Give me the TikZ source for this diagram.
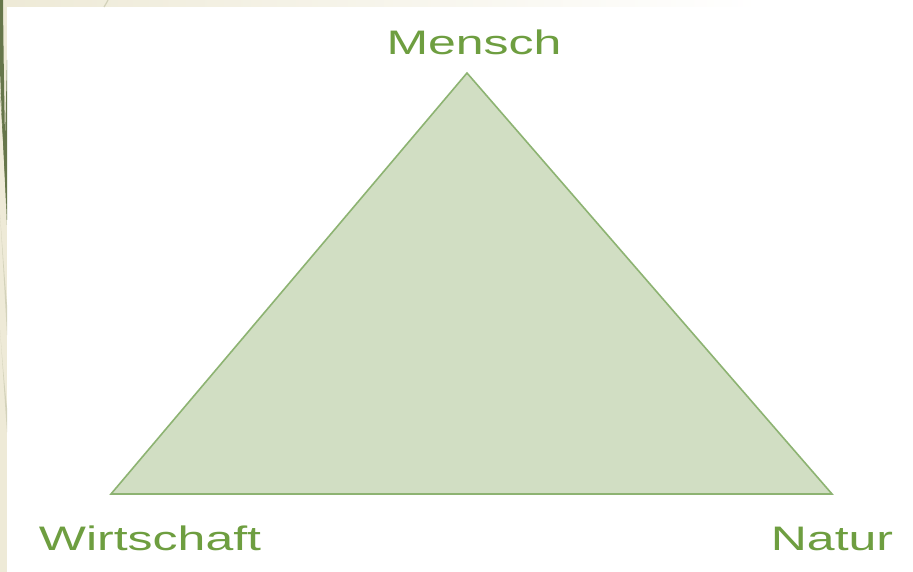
\documentclass[tikz,border=0pt]{standalone}
\usepackage{fontspec}
\newfontfamily\widefont[FakeStretch=1.47]{Liberation Sans}
\definecolor{beige}{HTML}{EEEAD7}
\definecolor{darkleaf}{HTML}{66764A}
\definecolor{paleleaf}{HTML}{D3D2BA}
\definecolor{trifill}{HTML}{D1DEC3}
\definecolor{triline}{HTML}{8DB372}
\definecolor{labelgreen}{HTML}{6E9E40}
\tikzset{
  lbl/.style={font=\widefont\fontsize{34}{40}\selectfont, text=labelgreen, inner sep=0pt, anchor=base},
}
\begin{document}
\begin{tikzpicture}[x=1pt,y=-1pt]
\useasboundingbox (0,0) rectangle (913,572);
% background frame
\fill[white] (0,0) rectangle (913,572);
\fill[beige] (0,0) rectangle (7,572);
\shade[left color=beige, right color=white] (7,0) rectangle (760,7);
% leaf strokes at the left edge
\fill[darkleaf] (0,0) -- (3,0) .. controls (3.5,60) and (5,150) .. (7,225) .. controls (4.5,170) and (1.5,110) .. (0,70) -- cycle;
\fill[darkleaf] (0,90) .. controls (3,140) and (5,175) .. (7,220) -- (7,60) .. controls (6,100) and (5.5,130) .. (4.5,150) .. controls (3,130) and (1.5,110) .. (0,90) -- cycle;
\fill[paleleaf] (0,215) .. controls (3,260) and (5,300) .. (7,335) -- (7,305) .. controls (4,270) and (2,240) .. (0,215) -- cycle;
\fill[paleleaf] (0,330) .. controls (3,370) and (5,405) .. (7,432) -- (7,408) .. controls (4,380) and (2,355) .. (0,330) -- cycle;
\draw[paleleaf, line width=1.2pt] (104,7) .. controls (106,4) and (107,2) .. (108,0);
% triangle
\coordinate (top) at (467,73);
\coordinate (bl) at (111,494);
\coordinate (br) at (832,494);
\filldraw[fill=trifill, draw=triline, line width=1.6pt, line join=miter] (top) -- (bl) -- (br) -- cycle;
% labels
\node[lbl] (mensch) at (474,55) {Mensch};
\node[lbl] (wirt) at (150,550) {Wirtschaft};
\node[lbl] (natur) at (832,550) {Natur};
\end{tikzpicture}
\end{document}
